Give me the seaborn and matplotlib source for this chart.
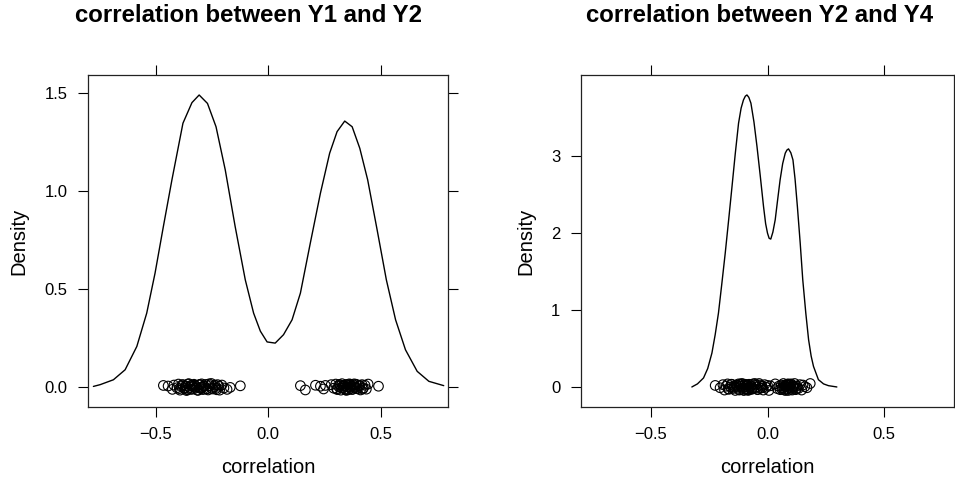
import numpy as np
import pandas as pd
import matplotlib
matplotlib.use("Agg")
import matplotlib.pyplot as plt
import seaborn as sns

# ---------------- data ----------------
titles = ["correlation between Y1 and Y2", "correlation between Y2 and Y4"]

# density curve, panel 1
dens1_x = [-0.776, -0.746, -0.687, -0.635, -0.583, -0.539, -0.502, -0.465, -0.427, -0.378,
           -0.338, -0.306, -0.269, -0.231, -0.190, -0.146, -0.101, -0.064, -0.034, -0.004,
           0.032, 0.069, 0.107, 0.144, 0.188, 0.233, 0.274, 0.307, 0.341, 0.374,
           0.408, 0.443, 0.485, 0.526, 0.567, 0.611, 0.663, 0.715, 0.781]
dens1_y = [0.003, 0.012, 0.037, 0.088, 0.207, 0.377, 0.581, 0.819, 1.057, 1.346,
           1.451, 1.490, 1.447, 1.328, 1.108, 0.819, 0.547, 0.377, 0.285, 0.230,
           0.224, 0.267, 0.343, 0.479, 0.734, 0.989, 1.193, 1.303, 1.357, 1.328,
           1.218, 1.057, 0.802, 0.547, 0.343, 0.190, 0.080, 0.029, 0.007]

# density curve, panel 2
dens2_x = [-0.324, -0.300, -0.274, -0.256, -0.238, -0.224, -0.210, -0.196, -0.181, -0.166,
           -0.152, -0.138, -0.124, -0.113, -0.103, -0.095, -0.088, -0.080, -0.071, -0.058,
           -0.045, -0.031, -0.017, -0.008, 0.000, 0.007, 0.014, 0.023, 0.033, 0.043,
           0.054, 0.065, 0.076, 0.083, 0.090, 0.100, 0.109, 0.118, 0.128, 0.140,
           0.151, 0.164, 0.176, 0.187, 0.197, 0.218, 0.240, 0.261, 0.297]
dens2_y = [0.000, 0.040, 0.117, 0.240, 0.441, 0.680, 0.960, 1.330, 1.738, 2.180,
           2.602, 3.030, 3.424, 3.620, 3.726, 3.775, 3.791, 3.760, 3.684, 3.440,
           3.121, 2.740, 2.342, 2.120, 1.997, 1.930, 1.920, 2.010, 2.170, 2.420,
           2.689, 2.900, 3.035, 3.075, 3.091, 3.040, 2.948, 2.700, 2.342, 1.870,
           1.392, 0.960, 0.613, 0.400, 0.267, 0.095, 0.040, 0.017, 0.000]

# observed correlations (rug points), panel 1
rug1_x = [-0.465, -0.444, -0.425, -0.418, -0.405, -0.398, -0.391, -0.384, -0.378, -0.371,
          -0.366, -0.359, -0.352, -0.347, -0.341, -0.335, -0.329, -0.322, -0.317, -0.311,
          -0.306, -0.300, -0.295, -0.289, -0.283, -0.277, -0.271, -0.266, -0.259, -0.252,
          -0.246, -0.238, -0.231, -0.224, -0.215, -0.205, -0.196, -0.182, -0.168, -0.123,
          -0.394, -0.381, -0.368, -0.356, -0.344, -0.333, -0.326, -0.314, -0.303, -0.292,
          -0.286, -0.274, -0.262, -0.249, -0.236, -0.228, -0.218, -0.362, -0.338, -0.297,
          0.144, 0.166, 0.211, 0.233, 0.247, 0.255, 0.281, 0.292, 0.301, 0.308,
          0.314, 0.319, 0.324, 0.329, 0.334, 0.338, 0.343, 0.347, 0.352, 0.357,
          0.361, 0.366, 0.371, 0.376, 0.381, 0.386, 0.392, 0.398, 0.404, 0.411,
          0.418, 0.424, 0.431, 0.437, 0.445, 0.491,
          0.305, 0.317, 0.326, 0.336, 0.345, 0.354, 0.363, 0.373, 0.383, 0.394,
          0.407, 0.421, 0.332, 0.349, 0.368, 0.389]
rug1_jit = [0.008, 0.005, -0.012, 0.010, -0.004, 0.015, -0.016, 0.003, 0.012, -0.009,
            0.006, -0.014, 0.017, -0.002, 0.009, -0.011, 0.014, -0.006, 0.001, -0.017,
            0.011, -0.003, 0.016, -0.013, 0.004, 0.013, -0.008, -0.015, 0.007, 0.018,
            -0.010, 0.002, -0.007, 0.012, -0.016, 0.010, -0.005, -0.012, -0.002, 0.006,
            -0.008, 0.011, -0.004, 0.015, -0.012, 0.003, 0.009, -0.016, 0.013, -0.001,
            0.006, -0.010, 0.016, -0.006, 0.010, -0.014, 0.004, -0.018, 0.008, -0.009,
            0.007, -0.015, 0.009, 0.004, -0.010, 0.008, 0.012, -0.006, 0.015, -0.013,
            0.003, 0.010, -0.016, 0.017, -0.004, 0.008, -0.011, 0.013, 0.001, -0.014,
            0.016, -0.007, 0.005, -0.012, 0.011, -0.002, 0.014, -0.009, 0.006, -0.015,
            0.012, -0.005, 0.009, -0.011, 0.015, 0.004,
            -0.009, 0.013, -0.003, 0.007, -0.015, 0.011, 0.002, -0.012, 0.016, -0.006,
            0.009, -0.010, 0.005, -0.017, 0.014, -0.001]

# observed correlations (rug points), panel 2
rug2_x = [-0.224, -0.203, -0.191, -0.184, -0.177, -0.171, -0.165, -0.159, -0.153, -0.148,
          -0.143, -0.138, -0.133, -0.128, -0.124, -0.119, -0.115, -0.111, -0.107, -0.103,
          -0.099, -0.095, -0.091, -0.087, -0.083, -0.079, -0.075, -0.071, -0.067, -0.062,
          -0.057, -0.052, -0.047, -0.042, -0.036, -0.030, -0.024, -0.018, -0.012, -0.006,
          0.000, 0.006, 0.012, -0.088, -0.096,
          -0.168, -0.156, -0.141, -0.131, -0.121, -0.113, -0.105, -0.097, -0.089, -0.081,
          -0.073, -0.064, -0.054, -0.044, -0.033, -0.021, -0.101, -0.085, -0.117, -0.069,
          0.033, 0.041, 0.048, 0.054, 0.059, 0.064, 0.068, 0.072, 0.076, 0.080,
          0.083, 0.086, 0.089, 0.092, 0.095, 0.098, 0.101, 0.104, 0.108, 0.112,
          0.116, 0.121, 0.126, 0.132, 0.139, 0.146, 0.152, 0.160, 0.169, 0.183,
          0.062, 0.070, 0.078, 0.085, 0.091, 0.097, 0.106, 0.114, 0.124, 0.088]
rug2_jit = [0.02, -0.01, 0.03, -0.04, 0.01, 0.04, -0.03, 0.00, 0.035, -0.02,
            0.015, -0.045, 0.025, -0.005, 0.04, -0.035, 0.01, 0.045, -0.015, -0.04,
            0.03, 0.005, -0.025, 0.02, -0.045, 0.035, -0.01, 0.015, -0.03, 0.04,
            -0.02, 0.025, 0.00, -0.035, 0.045, -0.015, 0.01, -0.04, 0.03, -0.005,
            0.02, -0.045, 0.015, -0.03, 0.035,
            -0.025, 0.035, -0.005, 0.02, -0.04, 0.01, 0.04, -0.02, 0.03, -0.035,
            0.005, -0.015, 0.045, -0.03, 0.025, -0.01, -0.045, 0.015, 0.035, -0.025,
            0.04, -0.02, 0.01, -0.035, 0.025, -0.01, 0.045, -0.04, 0.005, 0.03,
            -0.025, 0.015, -0.045, 0.035, 0.00, -0.015, 0.04, -0.03, 0.02, -0.005,
            0.045, -0.035, 0.01, -0.02, 0.03, -0.04, 0.025, 0.005, -0.01, 0.045,
            -0.03, 0.02, -0.045, 0.035, -0.01, 0.025, -0.04, 0.01, -0.02, 0.04]

x_ticks = [-0.5, 0.0, 0.5]
x_ticklabels = ["\u22120.5", "0.0", "0.5"]
y_ticks1 = [0.0, 0.5, 1.0, 1.5]
y_ticklabels1 = ["0.0", "0.5", "1.0", "1.5"]
y_ticks2 = [0, 1, 2, 3]
y_ticklabels2 = ["0", "1", "2", "3"]

# ---------------- styling ----------------
sns.set_style("white")
plt.rcParams["font.family"] = ["Liberation Sans", "DejaVu Sans"]
plt.rcParams["text.color"] = "black"
plt.rcParams["axes.labelcolor"] = "black"
plt.rcParams["xtick.color"] = "black"
plt.rcParams["ytick.color"] = "black"

W, H = 955, 484
fig = plt.figure(figsize=(W / 100, H / 100), dpi=100)

def px_axes(x0, x1, y0, y1):
    return fig.add_axes([x0 / W, 1 - y1 / H, (x1 - x0) / W, (y1 - y0) / H])

ax1 = px_axes(88, 448, 75, 407)
ax2 = px_axes(580.7, 954.3, 75, 407)

panels = [
    (ax1, dens1_x, dens1_y, rug1_x, rug1_jit, (-0.102, 1.592), y_ticks1, y_ticklabels1, 248),
    (ax2, dens2_x, dens2_y, rug2_x, rug2_jit, (-0.26, 4.05), y_ticks2, y_ticklabels2, 760),
]

for i, (ax, dx, dy, rx, rj, ylim, yt, ytl, tcx) in enumerate(panels):
    curve = pd.DataFrame({"x": dx, "y": dy})
    sns.lineplot(data=curve, x="x", y="y", sort=False, estimator=None,
                 color="black", linewidth=1.0, ax=ax)
    rug = pd.DataFrame({"x": rx, "y": rj})
    sns.scatterplot(data=rug, x="x", y="y", marker="o", s=48,
                    facecolors="none", edgecolor="black", linewidth=0.8, ax=ax)
    ax.set_xlim(-0.8, 0.8)
    ax.set_ylim(*ylim)
    ax.set_xticks(x_ticks)
    ax.set_xticklabels(x_ticklabels)
    ax.set_yticks(yt)
    ax.set_yticklabels(ytl)
    ax.tick_params(axis="both", which="both", direction="out", length=7.2, width=0.8,
                   color="black", labelcolor="black", labelsize=12, pad=7.5,
                   top=True, right=True, bottom=True, left=True,
                   labeltop=False, labelright=False)
    for sp in ax.spines.values():
        sp.set_visible(True)
        sp.set_color("#222222")
        sp.set_linewidth(0.9)
    ax.set_xlabel("correlation", fontsize=14.5, labelpad=11, color="black")
    ax.set_ylabel("Density", fontsize=14.5, labelpad=12 if i == 0 else 11, color="black")
    fig.text(tcx / W, 1 - 16 / H, titles[i], ha="center", va="center",
             fontsize=17.3, fontweight="bold", color="black")

fig.savefig("out.png", dpi=100)
